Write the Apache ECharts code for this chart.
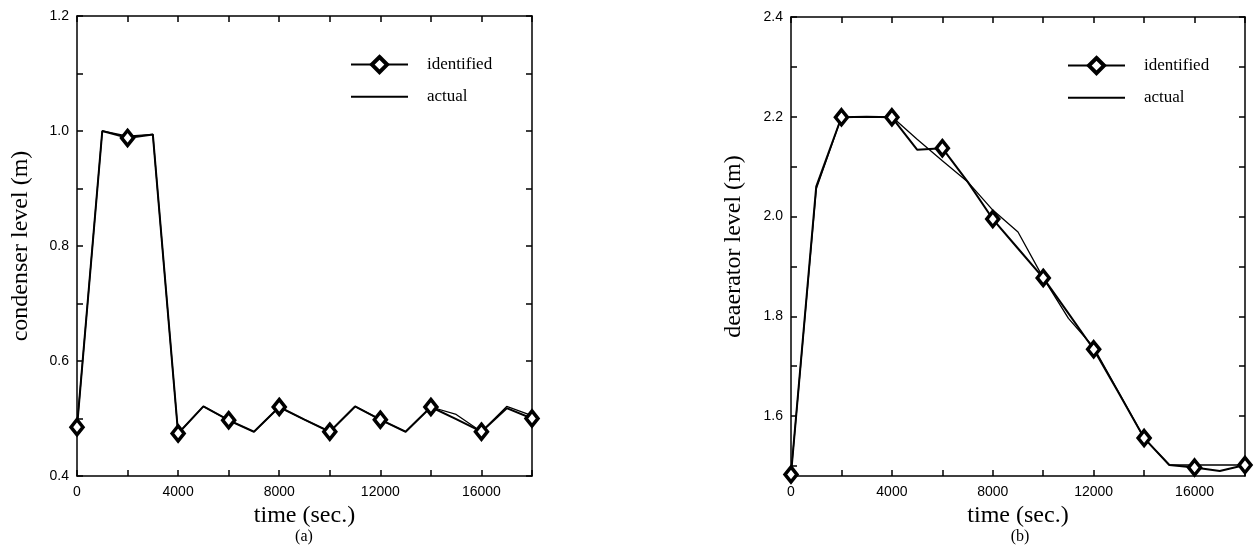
<!DOCTYPE html>
<html>
<head>
<meta charset="utf-8">
<script src="https://cdn.jsdelivr.net/npm/echarts@6/dist/echarts.min.js"></script>
<style>
  html, body { margin: 0; padding: 0; background: #fff; }
  #main { width: 1255px; height: 545px; }
</style>
</head>
<body>
<div id="main"></div>
<script>
// time axis (sec.), one sample every 1000 s
const timeSec = [0, 1000, 2000, 3000, 4000, 5000, 6000, 7000, 8000, 9000,
  10000, 11000, 12000, 13000, 14000, 15000, 16000, 17000, 18000];
// samples that carry a diamond marker
const markedTimes = [0, 2000, 4000, 6000, 8000, 10000, 12000, 14000, 16000, 18000];

// (a) condenser level (m)
const condIdentified = [0.485, 1.000, 0.988, 0.994, 0.474, 0.521, 0.497, 0.477, 0.520, 0.498,
  0.477, 0.521, 0.498, 0.477, 0.520, 0.499, 0.477, 0.518, 0.500];
const condActual = [0.485, 1.000, 0.991, 0.994, 0.474, 0.521, 0.497, 0.477, 0.520, 0.498,
  0.477, 0.521, 0.498, 0.477, 0.520, 0.507, 0.477, 0.521, 0.505];

// (b) deaerator level (m)
const deaIdentified = [1.483, 2.060, 2.199, 2.200, 2.199, 2.134, 2.137, 2.070, 1.995, 1.936,
  1.877, 1.806, 1.734, 1.646, 1.556, 1.502, 1.497, 1.490, 1.502];
const deaActual = [1.483, 2.055, 2.199, 2.200, 2.200, 2.155, 2.112, 2.070, 2.013, 1.969,
  1.877, 1.796, 1.738, 1.647, 1.556, 1.502, 1.502, 1.502, 1.502];

// ticks and labels
const timeTicks = [0, 2000, 4000, 6000, 8000, 10000, 12000, 14000, 16000, 18000];
const timeLabels = [0, 4000, 8000, 12000, 16000];
const condTicks = [0.4, 0.5, 0.6, 0.7, 0.8, 0.9, 1.0, 1.1, 1.2];
const condLabels = [0.4, 0.6, 0.8, 1.0, 1.2];
const deaTicks = [1.5, 1.6, 1.7, 1.8, 1.9, 2.0, 2.1, 2.2, 2.3, 2.4];
const deaLabels = [1.6, 1.8, 2.0, 2.2, 2.4];

const sans = "'Liberation Sans', Arial, sans-serif";
const serif = "'Liberation Serif', 'Times New Roman', serif";

function makeX(grid, pos) {
  return {
    type: "value", gridIndex: grid, position: pos, min: 0, max: 18000,
    axisLine: { onZero: false, lineStyle: { color: "#000", width: 1.5 } },
    axisTick: { inside: true, length: 6, customValues: timeTicks, lineStyle: { color: "#000", width: 1.5 } },
    axisLabel: { show: pos === "bottom", customValues: timeLabels, margin: 9, color: "#000", fontSize: 14, fontFamily: sans,
      formatter: v => String(v) },
    splitLine: { show: false },
    name: pos === "bottom" ? "time (sec.)" : "",
    nameLocation: "middle", nameGap: 26,
    nameTextStyle: { fontFamily: serif, fontSize: 24, color: "#000" }
  };
}

function makeY(grid, pos, min, max, ticks, labels, name, gap) {
  return {
    type: "value", gridIndex: grid, position: pos, min: min, max: max,
    axisLine: { onZero: false, lineStyle: { color: "#000", width: 1.5 } },
    axisTick: { inside: true, length: 6, customValues: ticks, lineStyle: { color: "#000", width: 1.5 } },
    axisLabel: { show: pos === "left", customValues: labels, margin: 8, color: "#000", fontSize: 14, fontFamily: sans,
      formatter: v => v.toFixed(1) },
    splitLine: { show: false },
    name: pos === "left" ? name : "",
    nameLocation: "middle", nameGap: gap,
    nameTextStyle: { fontFamily: serif, fontSize: 24, color: "#000" }
  };
}

function identified(xi, yi, values) {
  return {
    name: "identified", type: "line", xAxisIndex: xi, yAxisIndex: yi,
    symbol: "diamond", symbolSize: [12, 15], z: 4,
    itemStyle: { color: "#fff", borderColor: "#000", borderWidth: 3.5 },
    lineStyle: { color: "#000", width: 2 },
    data: timeSec.map((t, i) => markedTimes.includes(t)
      ? [t, values[i]]
      : { value: [t, values[i]], symbol: "none" })
  };
}

function actual(xi, yi, values) {
  return {
    name: "actual", type: "line", xAxisIndex: xi, yAxisIndex: yi,
    symbol: "none", z: 3,
    itemStyle: { color: "#000" },
    lineStyle: { color: "#000", width: 1.3 },
    data: timeSec.map((t, i) => [t, values[i]])
  };
}

function makeLegend(left, top) {
  return {
    left: left, top: top, orient: "vertical",
    itemWidth: 57, itemHeight: 19, itemGap: 14,
    data: [
      { name: "identified", itemStyle: { color: "#fff", borderColor: "#000", borderWidth: 4 } },
      { name: "actual", itemStyle: { opacity: 0 } }
    ],
    textStyle: { fontFamily: serif, fontSize: 17, color: "#000", padding: [0, 0, 0, 14] }
  };
}

const chart = echarts.init(document.getElementById("main"));
chart.setOption({
  animation: false,
  backgroundColor: "#fff",
  grid: [
    { left: 77, top: 16, width: 455, height: 460, outerBoundsMode: "none" },
    { left: 791, top: 17, width: 454, height: 459, outerBoundsMode: "none" }
  ],
  xAxis: [makeX(0, "bottom"), makeX(0, "top"), makeX(1, "bottom"), makeX(1, "top")],
  yAxis: [
    makeY(0, "left", 0.4, 1.2, condTicks, condLabels, "condenser level (m)", 44),
    makeY(0, "right", 0.4, 1.2, condTicks, condLabels, "", 0),
    makeY(1, "left", 1.48, 2.4, deaTicks, deaLabels, "deaerator level (m)", 45),
    makeY(1, "right", 1.48, 2.4, deaTicks, deaLabels, "", 0)
  ],
  legend: [makeLegend(345, 50), makeLegend(1062, 51)],
  graphic: [
    { type: "text", x: 304, y: 537, style: { text: "(a)", font: "16px " + serif, fill: "#000", textAlign: "center", textVerticalAlign: "middle" } },
    { type: "text", x: 1020, y: 537, style: { text: "(b)", font: "16px " + serif, fill: "#000", textAlign: "center", textVerticalAlign: "middle" } }
  ],
  series: [
    actual(0, 0, condActual),
    identified(0, 0, condIdentified),
    actual(2, 2, deaActual),
    identified(2, 2, deaIdentified)
  ]
});
</script>
</body>
</html>
